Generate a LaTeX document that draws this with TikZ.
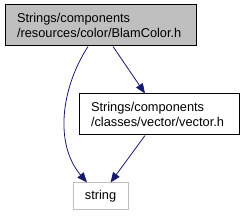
\documentclass[tikz,border=0pt]{standalone}
\usepackage{fontspec}
\setmainfont{Liberation Sans}
\definecolor{edgenavy}{HTML}{191970}
\definecolor{headgray}{HTML}{BFBFBF}
\definecolor{leafgray}{HTML}{BFBFBF}
\usetikzlibrary{positioning,arrows.meta}

\begin{document}
\begin{tikzpicture}[
  x=1pt, y=-1pt,
  font=\fontsize{12.8}{15}\selectfont,
  file/.style={draw=black, line width=1pt, fill=white, align=left, inner sep=0pt, minimum height=41pt},
  head/.style={file, fill=headgray},
  leaf/.style={draw=leafgray, line width=1pt, fill=white, align=center, inner sep=0pt, minimum width=55pt, minimum height=27pt},
  arr/.style={-{Triangle[length=10pt,width=8pt]}, color=edgenavy, line width=0.8pt},
]
  \useasboundingbox (0,0) rectangle (244,216);
  \node[head, minimum width=191pt, text width=167pt] (blamcolor) at (100.5,25.5) {Strings/components\\/resources/color/BlamColor.h};
  \node[file, minimum width=160pt, text width=136pt] (vector) at (159,114.5) {Strings/components\\/classes/vector/vector.h};
  \node[leaf] (string) at (100.5,196.5) {string};
  \draw[arr] ([xshift=-12.5pt]blamcolor.south) .. controls (60,90) and (55,145) .. ([xshift=-13.5pt]string.north);
  \draw[arr] ([xshift=12.5pt]blamcolor.south) -- ([xshift=-14pt]vector.north);
  \draw[arr] ([xshift=-14pt]vector.south) -- ([xshift=10pt]string.north);
\end{tikzpicture}
\end{document}
